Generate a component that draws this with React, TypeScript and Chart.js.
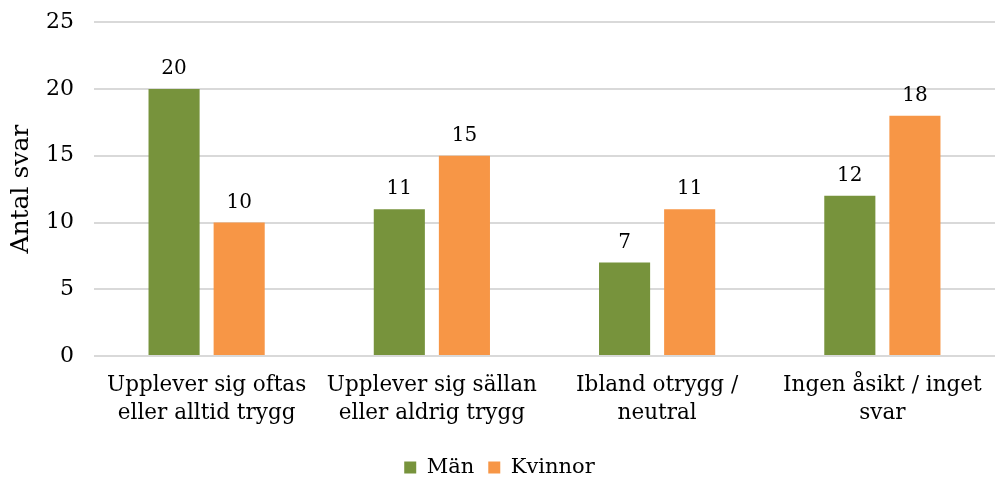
import React, { useEffect, useRef } from "react";
import { Chart, registerables } from "chart.js";

Chart.register(...registerables);

const categories: string[][] = [
  ["Upplever sig oftas", "eller alltid trygg"],
  ["Upplever sig sällan", "eller aldrig trygg"],
  ["Ibland otrygg /", "neutral"],
  ["Ingen åsikt / inget", "svar"],
];
const man: number[] = [20, 11, 7, 12];
const kvinnor: number[] = [10, 15, 11, 18];
const yTitle = "Antal svar";

const FONT = "'DejaVu Serif', serif";

const dataLabels = {
  id: "dataLabels",
  afterDatasetsDraw(chart: any) {
    const ctx = chart.ctx;
    ctx.save();
    ctx.font = `20px ${FONT}`;
    ctx.fillStyle = "#000";
    ctx.textAlign = "center";
    ctx.textBaseline = "bottom";
    chart.data.datasets.forEach((ds: any, i: number) => {
      const meta = chart.getDatasetMeta(i);
      meta.data.forEach((el: any, j: number) => {
        ctx.fillText(String(ds.data[j]), el.x, el.y - 10);
      });
    });
    ctx.restore();
  },
};

export default function App() {
  const ref = useRef<HTMLCanvasElement>(null);
  useEffect(() => {
    if (!ref.current) return;
    const chart = new Chart(ref.current, {
      type: "bar",
      data: {
        labels: categories,
        datasets: [
          { label: "Män", data: man, backgroundColor: "#77933C", categoryPercentage: 0.578, barPercentage: 0.785 },
          { label: "Kvinnor", data: kvinnor, backgroundColor: "#F79646", categoryPercentage: 0.578, barPercentage: 0.785 },
        ],
      },
      options: {
        animation: false,
        responsive: false,
        layout: { autoPadding: false, padding: { left: 4, right: 2, top: 22, bottom: -9 } },
        plugins: {
          legend: {
            position: "bottom",
            labels: { font: { family: FONT, size: 21 }, color: "#000", boxWidth: 12, boxHeight: 12, padding: 14 },
          },
          tooltip: { enabled: false },
        },
        scales: {
          x: {
            grid: { display: false },
            border: { display: false },
            ticks: { font: { family: FONT, size: 21.5, lineHeight: 1.3 }, color: "#000", maxRotation: 0, autoSkip: false, padding: 7 },
            afterFit: (scale: any) => { scale.height += 9; },
          },
          y: {
            min: 0,
            max: 25,
            ticks: { stepSize: 5, font: { family: FONT, size: 22, lineHeight: 0.2 }, color: "#000", padding: 20 },
            grid: { color: "#d9d9d9", lineWidth: 2, drawTicks: false },
            border: { display: false },
            title: { display: true, text: yTitle, font: { family: FONT, size: 25 }, color: "#000", padding: { top: 2, bottom: -10 } },
          },
        },
      },
      plugins: [dataLabels],
    });
    return () => chart.destroy();
  }, []);
  return (
    <div style={{ position: "fixed", left: 0, top: 0, width: 997, height: 479, background: "#fff" }}>
      <canvas ref={ref} width={997} height={479} />
    </div>
  );
}
